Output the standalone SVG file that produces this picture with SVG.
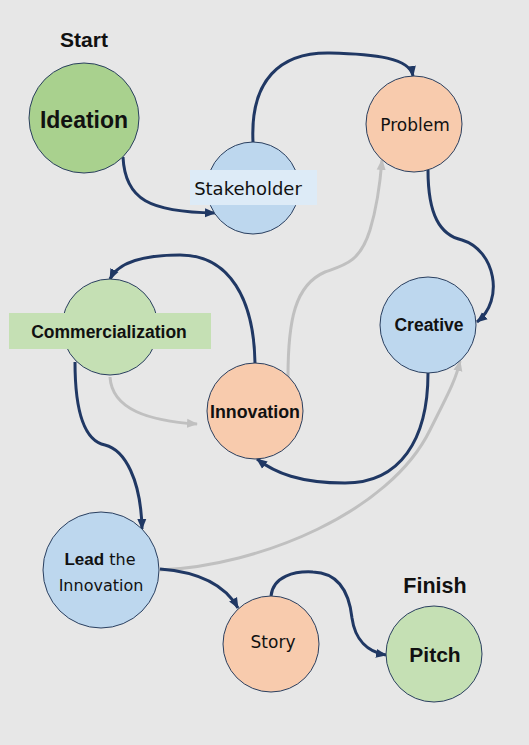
<svg xmlns="http://www.w3.org/2000/svg" width="529" height="745" viewBox="0 0 529 745">
<style>
.bg{fill:#e7e7e7}
.node{stroke:#2a3f5f;stroke-width:1}
.green{fill:#a9d18e}
.lgreen{fill:#c5e0b4}
.blue{fill:#bdd7ee}
.peach{fill:#f8cbad}
.cn{fill:none;stroke:#203864;stroke-width:3;stroke-linecap:butt}
.cg{fill:none;stroke:#c0c0c0;stroke-width:3;stroke-linecap:butt}
.b{font-family:"Liberation Sans",Arial,sans-serif;font-weight:bold;fill:#111;text-anchor:middle}
.r{font-family:"DejaVu Sans","Liberation Sans",sans-serif;fill:#111;text-anchor:middle}
</style>
<defs>
<marker id="an" markerWidth="11" markerHeight="10" refX="10" refY="5" orient="auto" markerUnits="userSpaceOnUse"><path d="M0,0.5 L11,5 L0,9.5 z" fill="#203864"/></marker>
<marker id="ag" markerWidth="11" markerHeight="10" refX="10" refY="5" orient="auto" markerUnits="userSpaceOnUse"><path d="M0,0.5 L11,5 L0,9.5 z" fill="#c0c0c0"/></marker>
</defs>
<rect class="bg" x="0" y="0" width="529" height="745"/>
<g id="connectors">
<path class="cg" d="M110,377 C112,410 150,421 197,424" marker-end="url(#ag)"/>
<path class="cg" d="M288,377 C288,320 295,285 325,272 C345,265 360,262 370,230 C377,207 380,185 382,160" marker-end="url(#ag)"/>
<path class="cg" d="M160,570 C260,566 390,512 430,430 C447,396 456,380 460,361" marker-end="url(#ag)"/>
<path class="cn" d="M123,157 C125,200 150,212 215,213" marker-end="url(#an)"/>
<path class="cn" d="M253,142 C250,80 280,52 330,53 C375,54 410,58 413,76" marker-end="url(#an)"/>
<path class="cn" d="M428,170 C428,215 440,235 462,240 C495,250 505,300 477,322" marker-end="url(#an)"/>
<path class="cn" d="M428,373 C428,440 400,483 345,483 C300,483 275,473 257,459" marker-end="url(#an)"/>
<path class="cn" d="M255,363 C254,300 230,255 180,255 C140,255 118,263 110,279" marker-end="url(#an)"/>
<path class="cn" d="M75,362 C75,400 80,440 105,445 C125,450 141,480 142,529" marker-end="url(#an)"/>
<path class="cn" d="M160,569 C200,572 225,585 238,608" marker-end="url(#an)"/>
<path class="cn" d="M271,596 C273,576 295,571 313,572 C343,573 350,600 352,618 C355,640 368,652 386,655" marker-end="url(#an)"/>
</g>
<g id="start-label"><text class="b" x="84" y="47" font-size="21">Start</text></g>
<g id="ideation">
<circle class="node green" cx="84" cy="118" r="55"/>
<text class="b" x="84" y="128" font-size="23">Ideation</text>
</g>
<g id="stakeholder">
<circle class="node blue" cx="253" cy="188" r="46"/>
<rect x="190" y="170" width="127" height="35" fill="#ddebf7"/>
<text class="r" x="248" y="195" font-size="18">Stakeholder</text>
</g>
<g id="problem">
<circle class="node peach" cx="414" cy="124" r="48"/>
<text class="r" x="415" y="131" font-size="17">Problem</text>
</g>
<g id="creative">
<circle class="node blue" cx="428" cy="325" r="48"/>
<text class="b" x="429" y="331" font-size="17.5">Creative</text>
</g>
<g id="commercialization">
<circle class="node lgreen" cx="110" cy="327" r="48"/>
<rect x="9" y="313" width="202" height="36" fill="#c5e0b4"/>
<text class="b" x="109" y="338" font-size="17.5">Commercialization</text>
</g>
<g id="innovation">
<circle class="node peach" cx="255" cy="411" r="48"/>
<text class="b" x="255" y="418" font-size="17.8">Innovation</text>
</g>
<g id="lead">
<circle class="node blue" cx="101" cy="570" r="58"/>
<text class="r" x="100" y="565" font-size="16"><tspan font-family="Liberation Sans, Arial, sans-serif" font-weight="bold" font-size="17">Lead</tspan> the</text>
<text class="r" x="101" y="591" font-size="16">Innovation</text>
</g>
<g id="story">
<circle class="node peach" cx="271" cy="644" r="48"/>
<text class="r" x="273" y="648" font-size="17">Story</text>
</g>
<g id="finish-label"><text class="b" x="435" y="593" font-size="21.5">Finish</text></g>
<g id="pitch">
<circle class="node lgreen" cx="434" cy="654" r="48"/>
<text class="b" x="435" y="662" font-size="21">Pitch</text>
</g>
</svg>
